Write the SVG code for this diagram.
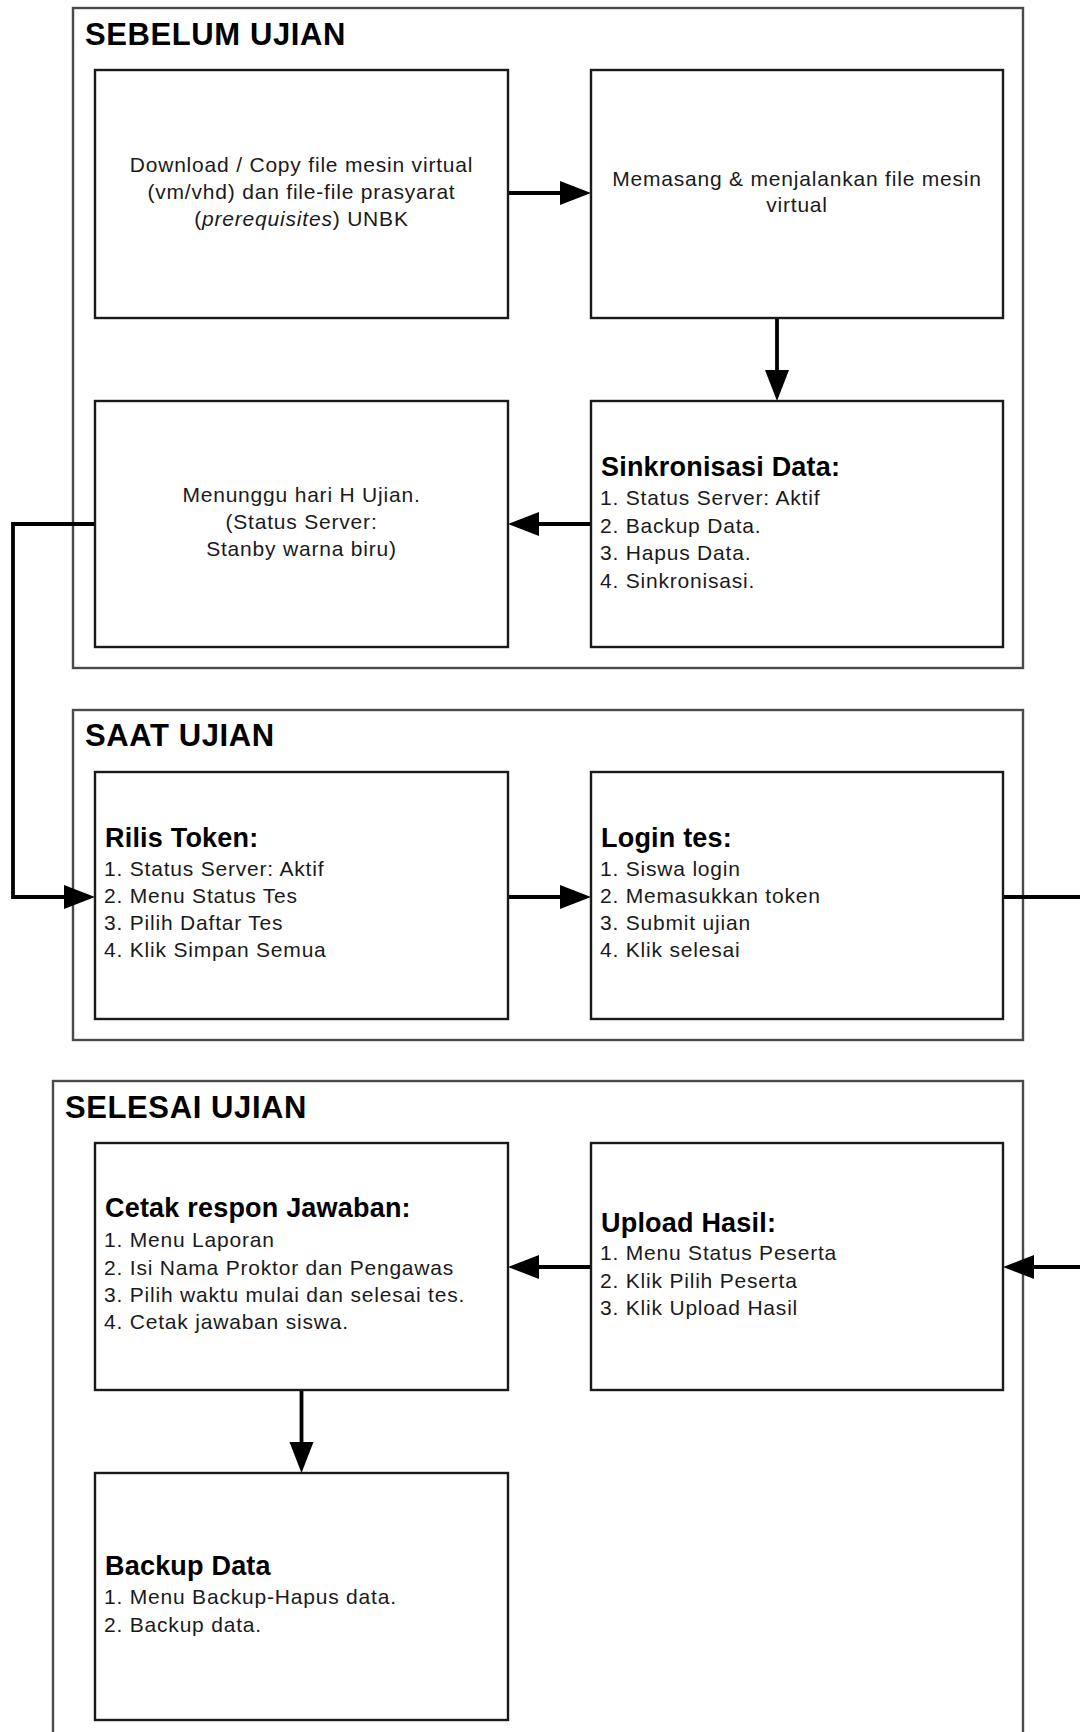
<svg xmlns="http://www.w3.org/2000/svg" width="1080" height="1732" viewBox="0 0 1080 1732">
<defs>
<style>
.frame{fill:none;stroke:#4a4a4a;stroke-width:2.4}
.box{fill:#fff;stroke:#1a1a1a;stroke-width:2.4}
.title{font-family:"Liberation Sans",Arial,sans-serif;font-weight:bold;font-size:31px;letter-spacing:0.6px;fill:#000}
.hd{font-family:"Liberation Sans",Arial,sans-serif;font-weight:bold;font-size:27px;letter-spacing:0.2px;fill:#000}
.tx{font-family:"Liberation Sans",Arial,sans-serif;font-size:21px;letter-spacing:0.8px;fill:#1a1a1a}
.c{text-anchor:middle}
.conn{fill:none;stroke:#000;stroke-width:3.8}
</style>
<marker id="ah" markerUnits="userSpaceOnUse" markerWidth="32" markerHeight="26" refX="0" refY="12" orient="auto" overflow="visible">
<path d="M0,0 L31,12 L0,24 Z" fill="#000"/>
</marker>
</defs>
<rect width="1080" height="1732" fill="#fff"/>

<g id="phase-sebelum">
<rect class="frame" x="73" y="8" width="950" height="660"/>
<text class="title" x="85" y="45">SEBELUM UJIAN</text>
</g>
<g id="phase-saat">
<rect class="frame" x="73" y="710" width="950" height="330"/>
<text class="title" x="85" y="746">SAAT UJIAN</text>
</g>
<g id="phase-selesai">
<rect class="frame" x="53" y="1081" width="970" height="700"/>
<text class="title" x="65" y="1118">SELESAI UJIAN</text>
</g>

<g id="connectors">
<path class="conn" d="M508,193 H560" marker-end="url(#ah)"/>
<path class="conn" d="M777,318 V370" marker-end="url(#ah)"/>
<path class="conn" d="M591,524 H539" marker-end="url(#ah)"/>
<path class="conn" d="M95,524 H13 V897 H64" marker-end="url(#ah)"/>
<path class="conn" d="M508,897 H560" marker-end="url(#ah)"/>
<path class="conn" d="M1003,897 H1110 V1267 H1034" marker-end="url(#ah)"/>
<path class="conn" d="M591,1267 H539" marker-end="url(#ah)"/>
<path class="conn" d="M301.5,1390 V1442" marker-end="url(#ah)"/>
</g>

<g id="node-download">
<rect class="box" x="95" y="70" width="413" height="248"/>
<text class="tx c" x="301.5" y="172">Download / Copy file mesin virtual</text>
<text class="tx c" x="301.5" y="199">(vm/vhd) dan file-file prasyarat</text>
<text class="tx c" x="301.5" y="226">(<tspan font-style="italic">prerequisites</tspan>) UNBK</text>
</g>
<g id="node-memasang">
<rect class="box" x="591" y="70" width="412" height="248"/>
<text class="tx c" x="797" y="186">Memasang &amp; menjalankan file mesin</text>
<text class="tx c" x="797" y="212">virtual</text>
</g>
<g id="node-sinkronisasi">
<rect class="box" x="591" y="401" width="412" height="246"/>
<text class="hd" x="601" y="476">Sinkronisasi Data:</text>
<text class="tx" x="600" y="505">1. Status Server: Aktif</text>
<text class="tx" x="600" y="532.5">2. Backup Data.</text>
<text class="tx" x="600" y="560">3. Hapus Data.</text>
<text class="tx" x="600" y="587.5">4. Sinkronisasi.</text>
</g>
<g id="node-menunggu">
<rect class="box" x="95" y="401" width="413" height="246"/>
<text class="tx c" x="301.5" y="502">Menunggu hari H Ujian.</text>
<text class="tx c" x="301.5" y="529">(Status Server:</text>
<text class="tx c" x="301.5" y="556">Stanby warna biru)</text>
</g>
<g id="node-rilis">
<rect class="box" x="95" y="772" width="413" height="247"/>
<text class="hd" x="105" y="847">Rilis Token:</text>
<text class="tx" x="104" y="876">1. Status Server: Aktif</text>
<text class="tx" x="104" y="903">2. Menu Status Tes</text>
<text class="tx" x="104" y="930">3. Pilih Daftar Tes</text>
<text class="tx" x="104" y="957">4. Klik Simpan Semua</text>
</g>
<g id="node-login">
<rect class="box" x="591" y="772" width="412" height="247"/>
<text class="hd" x="601" y="847">Login tes:</text>
<text class="tx" x="600" y="876">1. Siswa login</text>
<text class="tx" x="600" y="903">2. Memasukkan token</text>
<text class="tx" x="600" y="930">3. Submit ujian</text>
<text class="tx" x="600" y="957">4. Klik selesai</text>
</g>
<g id="node-cetak">
<rect class="box" x="95" y="1143" width="413" height="247"/>
<text class="hd" x="105" y="1217">Cetak respon Jawaban:</text>
<text class="tx" x="104" y="1247">1. Menu Laporan</text>
<text class="tx" x="104" y="1274.5">2. Isi Nama Proktor dan Pengawas</text>
<text class="tx" x="104" y="1302">3. Pilih waktu mulai dan selesai tes.</text>
<text class="tx" x="104" y="1329">4. Cetak jawaban siswa.</text>
</g>
<g id="node-upload">
<rect class="box" x="591" y="1143" width="412" height="247"/>
<text class="hd" x="601" y="1232">Upload Hasil:</text>
<text class="tx" x="600" y="1260">1. Menu Status Peserta</text>
<text class="tx" x="600" y="1287.5">2. Klik Pilih Peserta</text>
<text class="tx" x="600" y="1315">3. Klik Upload Hasil</text>
</g>
<g id="node-backup">
<rect class="box" x="95" y="1473" width="413" height="247"/>
<text class="hd" x="105" y="1575">Backup Data</text>
<text class="tx" x="104" y="1604">1. Menu Backup-Hapus data.</text>
<text class="tx" x="104" y="1631.5">2. Backup data.</text>
</g>
</svg>
